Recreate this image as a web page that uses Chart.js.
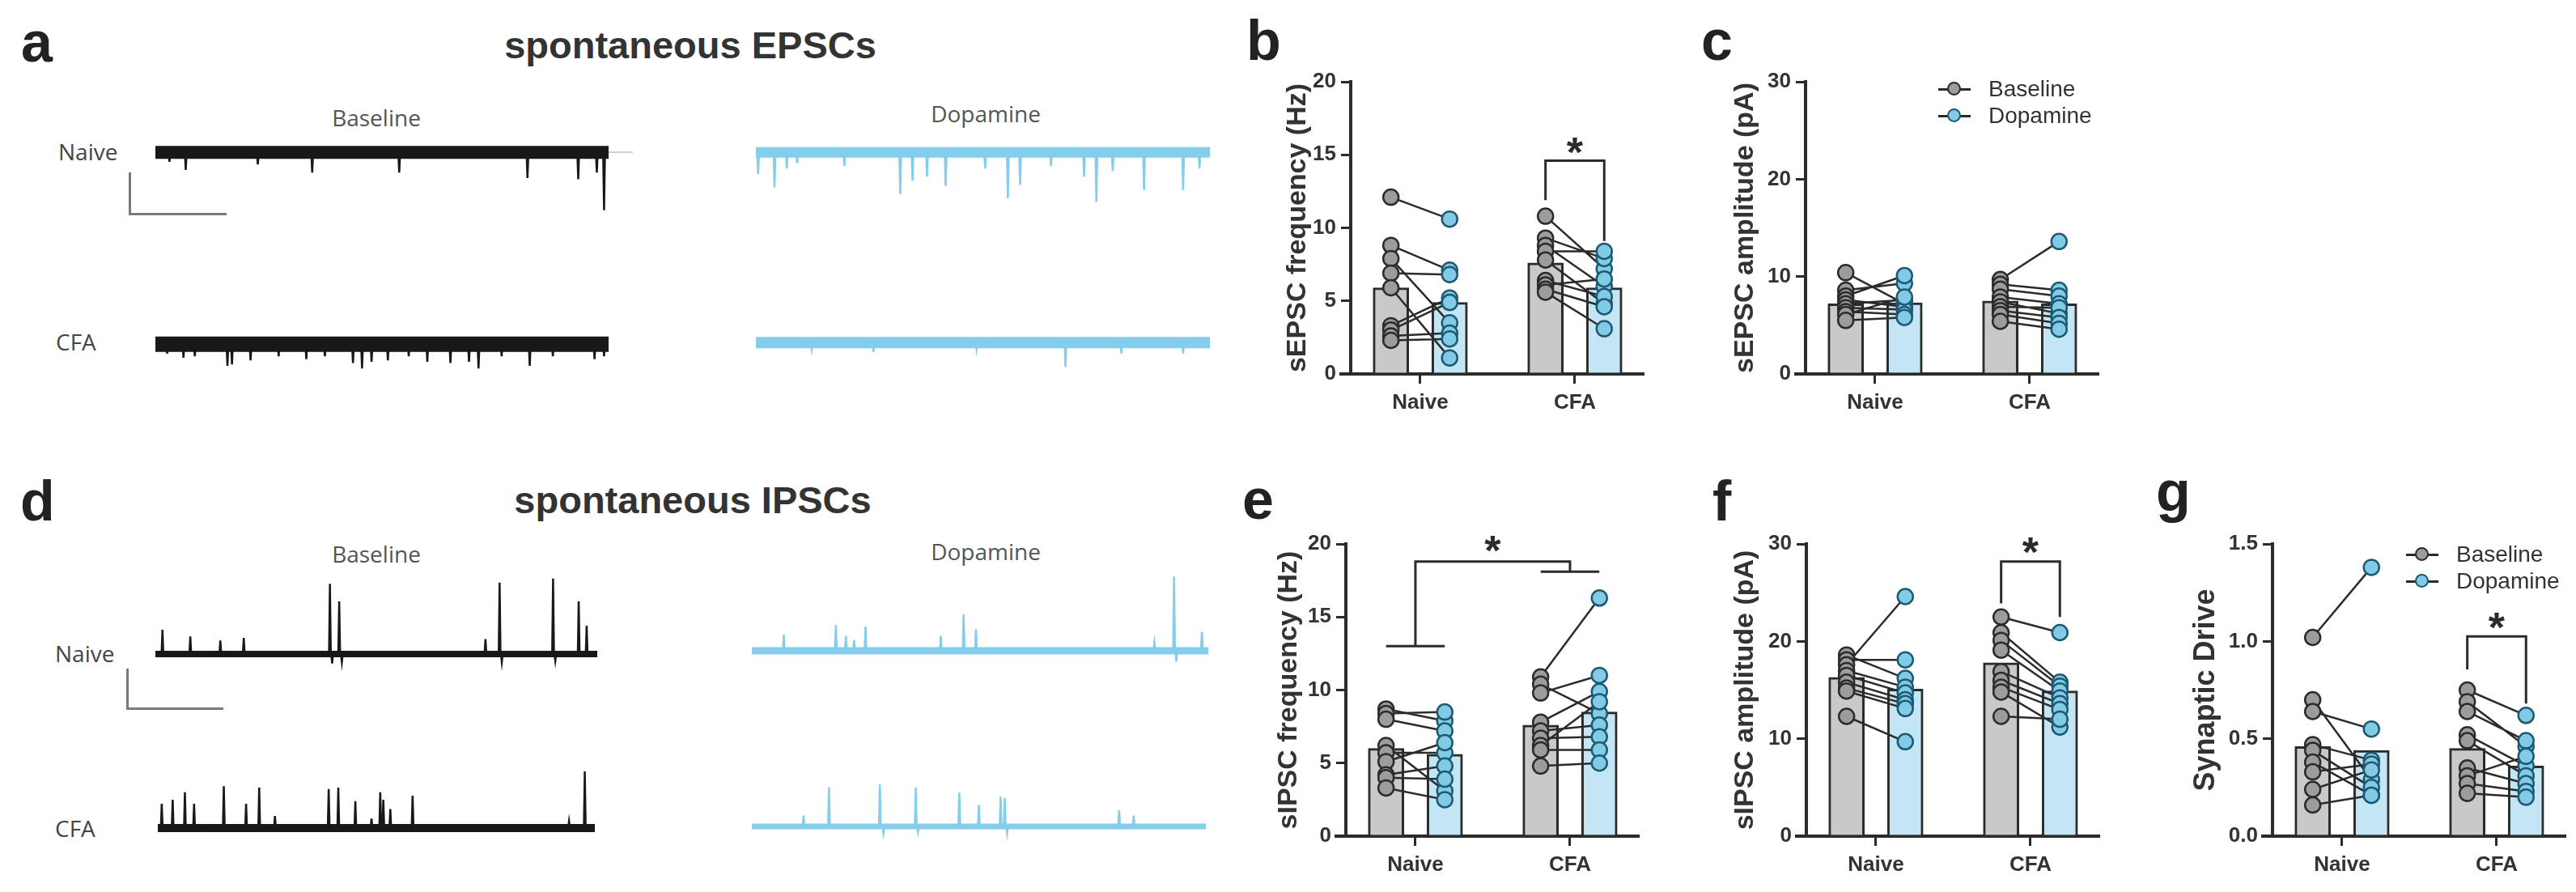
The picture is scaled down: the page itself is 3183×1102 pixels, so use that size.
<!DOCTYPE html>
<html>
<head>
<meta charset="utf-8">
<script src="https://cdn.jsdelivr.net/npm/chart.js@4.4.1/dist/chart.umd.min.js"></script>
<style>
  html, body { margin: 0; padding: 0; background: #fff; }
  #fig { position: relative; width: 3183px; height: 1102px; overflow: hidden; background: #fff; }
  #fig canvas { position: absolute; }
  .t { position: absolute; white-space: nowrap; }
  .ln { position: absolute; background: #7a7a7a; }
</style>
</head>
<body>
<div id="fig"></div>
<script>
// groups on the x axis
const groups = ['Naive', 'CFA'];

// b - sEPSC frequency (Hz), paired cells
const bNaiveBase = [12.1, 8.8, 7.9, 6.9, 5.9, 3.3, 3.0, 2.6, 2.3];
const bNaiveDopa = [10.6, 7.1, 3.5, 6.8, 1.1, 5.2, 4.9, 2.8, 2.4];
const bCfaBase = [10.8, 9.3, 8.8, 8.4, 7.8, 6.4, 6.1, 5.8, 5.6];
const bCfaDopa = [7.2, 7.9, 6.0, 8.4, 4.8, 5.3, 6.5, 4.6, 3.1];
const bBarBase = [5.9, 7.6];
const bBarDopa = [4.9, 5.9];

// c - sEPSC amplitude (pA)
const cNaiveBase = [10.4, 8.6, 8.0, 7.6, 7.2, 6.8, 6.4, 6.1, 5.5];
const cNaiveDopa = [7.2, 9.3, 10.1, 6.9, 7.6, 6.6, 6.1, 7.9, 5.8];
const cCfaBase = [9.7, 9.2, 8.7, 7.9, 7.4, 6.9, 6.5, 6.1, 5.4];
const cCfaDopa = [13.6, 8.6, 8.0, 7.2, 6.2, 6.8, 5.8, 5.2, 4.6];
const cBarBase = [7.2, 7.5];
const cBarDopa = [7.3, 7.2];

// e - sIPSC frequency (Hz)
const eNaiveBase = [8.7, 8.4, 8.0, 6.2, 5.7, 5.1, 4.2, 4.0, 3.3];
const eNaiveDopa = [7.9, 8.5, 7.2, 3.1, 5.7, 6.4, 4.8, 3.9, 2.5];
const eCfaBase = [10.9, 10.4, 9.8, 7.8, 7.2, 6.7, 6.2, 5.9, 4.8];
const eCfaDopa = [16.3, 8.4, 11.0, 9.9, 7.6, 6.8, 9.2, 5.9, 5.0];
const eBarBase = [6.0, 7.6];
const eBarDopa = [5.6, 8.5];

// f - sIPSC amplitude (pA)
const fNaiveBase = [18.6, 18.1, 17.6, 17.0, 16.5, 15.8, 15.2, 14.9, 12.3];
const fNaiveDopa = [16.2, 18.1, 24.6, 15.3, 14.7, 14.0, 13.6, 13.1, 9.7];
const fCfaBase = [22.5, 20.9, 20.1, 19.1, 16.9, 16.0, 15.3, 14.8, 12.3];
const fCfaDopa = [20.9, 15.8, 15.4, 14.9, 14.2, 13.6, 13.0, 11.2, 12.0];
const fBarBase = [16.3, 17.8];
const fBarDopa = [15.1, 14.9];

// g - synaptic drive
const gNaiveBase = [1.02, 0.70, 0.64, 0.47, 0.44, 0.38, 0.33, 0.24, 0.16];
const gNaiveDopa = [1.38, 0.29, 0.55, 0.39, 0.25, 0.21, 0.37, 0.34, 0.21];
const gCfaBase = [0.75, 0.69, 0.64, 0.52, 0.49, 0.35, 0.31, 0.27, 0.22];
const gCfaDopa = [0.62, 0.46, 0.49, 0.36, 0.31, 0.27, 0.41, 0.23, 0.20];
const gBarBase = [0.46, 0.45];
const gBarDopa = [0.44, 0.36];

// significance brackets (x in group units, y in axis units) and stars
const bBracket = [[[0.81, 11.9], [0.81, 14.6], [1.19, 14.6], [1.19, 9.1]]];
const bStars = [[1.0, 15.8]];
const eBracket = [
  [[-0.19, 13.0], [0.19, 13.0]],
  [[0, 13.0], [0, 18.8], [1, 18.8], [1, 18.1]],
  [[0.81, 18.1], [1.19, 18.1]]
];
const eStars = [[0.5, 20.2]];
const fBracket = [[[0.81, 23.9], [0.81, 28.2], [1.19, 28.2], [1.19, 22.5]]];
const fStars = [[1.0, 30.1]];
const gBracket = [[[0.81, 0.856], [0.81, 1.025], [1.19, 1.025], [1.19, 0.68]]];
const gStars = [[1.0, 1.12]];

// example traces: events as [position % of trace, amplitude]
const epscNaiveBase = [[3.1,35],[6.7,65],[22.6,45],[34.6,75],[53.8,75],[82.1,95],[93.3,100],[97.4,75],[99.0,215]];
const epscNaiveDopa = [[0.5,80],[4.1,130],[6.8,60],[9.1,40],[19.5,50],[31.8,155],[34.5,105],[37.7,90],[41.8,125],[50.5,60],[55.5,170],[58.2,120],[65.0,50],[72.3,90],[75.0,185],[78.6,70],[85.5,140],[94.1,140],[97.7,60]];
const epscCfaBase = [[2.6,35],[6.2,50],[8.7,45],[15.9,80],[16.9,75],[21.0,60],[27.2,45],[33.3,55],[37.4,45],[43.6,70],[45.6,90],[47.7,65],[51.3,60],[55.9,45],[60.0,65],[65.1,70],[69.2,65],[71.3,90],[76.4,45],[82.6,80],[87.7,45],[96.9,55],[99.0,45]];
const epscCfaDopa = [[12.3,25],[25.9,35],[48.6,25],[68.2,90],[80.5,40],[94.1,40]];
const ipscNaiveBase = [[1.6,90],[7.9,65],[14.7,50],[20.0,60],[39.5,260],[40.0,-35],[41.6,195],[42.2,-30],[74.7,55],[77.9,265],[78.4,-30],[90.0,280],[90.5,-25],[95.8,195],[97.6,105]];
const ipscNaiveDopa = [[7.0,60],[18.4,95],[20.6,55],[22.4,40],[24.9,90],[41.4,55],[46.4,135],[49.1,80],[88.2,30],[92.5,275],[93.0,-40],[98.6,70]];
const ipscCfaBase = [[0.9,90],[3.4,105],[6.2,133],[8.3,90],[15.1,155],[20.2,90],[23.2,150],[26.8,45],[39.1,145],[41.3,150],[45.2,100],[48.9,35],[50.9,133],[51.6,105],[53.2,70],[58.3,120],[94.1,25],[97.7,210]];
const ipscCfaDopa = [[11.4,40],[17.0,145],[28.2,155],[29.0,-25],[36.1,145],[36.6,-20],[45.7,125],[50.0,80],[54.8,110],[55.7,105],[56.2,-25],[80.9,60],[84.1,40]];

const fig = document.getElementById('fig');
const SANS = '"Liberation Sans", Arial, sans-serif';
const DARK = '#2b2b2b';
const GRAY_BAR = '#c9c9c9', BLUE_BAR = '#c3e5f4';
const GRAY_PT = '#9c9c9c', BLUE_PT = '#82cbe6', BLUE_EDGE = '#1d5a72';
const TRACE_BLACK = '#181818', TRACE_BLUE = '#84cdec';

// x axis of the bar panels, in group units
const UNIT = 191, X_MIN = -0.45, X_MAX = 1.44, OFF = 0.19;

function text(str, x, baseline, font, color, align) {
  const d = document.createElement('div');
  d.className = 't';
  d.textContent = str;
  d.style.font = font;
  d.style.lineHeight = '1';
  d.style.color = color;
  const size = parseFloat(font.match(/(\d+)px/)[1]);
  d.style.top = (baseline - 0.86 * size) + 'px';
  d.style.left = x + 'px';
  if (align === 'center') d.style.transform = 'translateX(-50%)';
  fig.appendChild(d);
}

function addCanvas(left, top, w, h) {
  const c = document.createElement('canvas');
  c.width = w; c.height = h;
  c.style.left = left + 'px'; c.style.top = top + 'px';
  c.style.width = w + 'px'; c.style.height = h + 'px';
  fig.appendChild(c);
  return c;
}

function rule(left, top, w, h, color) {
  const d = document.createElement('div');
  d.className = 'ln';
  d.style.left = left + 'px'; d.style.top = top + 'px';
  d.style.width = w + 'px'; d.style.height = h + 'px';
  if (color) d.style.background = color;
  fig.appendChild(d);
}

// stars above the brackets, plus the little x-axis overhang left of the y axis
const starPlugin = {
  id: 'stars',
  afterDatasetsDraw(chart, args, opts) {
    const ctx = chart.ctx;
    ctx.save();
    ctx.fillStyle = DARK;
    ctx.font = 'bold 52px ' + SANS;
    ctx.textAlign = 'center';
    ctx.textBaseline = 'alphabetic';
    (opts.points || []).forEach(([x, y]) => {
      const px = chart.scales.x.getPixelForValue(x);
      const py = chart.scales.y.getPixelForValue(y);
      ctx.fillText('*', px, py + 0.57 * 52);
    });
    ctx.restore();
  },
  afterDraw(chart) {
    const a = chart.chartArea, ctx = chart.ctx;
    ctx.save();
    ctx.strokeStyle = DARK;
    ctx.lineWidth = 4;
    ctx.beginPath();
    ctx.moveTo(a.left - 14, a.bottom);
    ctx.lineTo(a.left, a.bottom);
    ctx.stroke();
    ctx.restore();
  }
};

function polylines(lines) {
  const out = [];
  lines.forEach(l => {
    l.forEach(([x, y]) => out.push({x: x, y: y}));
    out.push({x: l[l.length - 1][0], y: null});
  });
  return out;
}

function barPanel(o) {
  const Y_W = 120, X_H = 62, PAD_T = 60, PAD_R = 12;
  const plotW = Math.round((X_MAX - X_MIN) * UNIT);
  const plotH = o.bottom - o.top;
  const cv = addCanvas(o.left - Y_W, o.top - PAD_T, Y_W + plotW + PAD_R, PAD_T + plotH + X_H);

  const bars = (vals, off) => vals.map((v, i) => ({x: i + off, y: v}));
  const pts = (n, c, off) => n.map(v => ({x: off, y: v})).concat(c.map(v => ({x: 1 + off, y: v})));
  const pairs = [];
  [[o.nb, o.nd, 0], [o.cb, o.cd, 1]].forEach(([b, d, g]) => {
    b.forEach((v, i) => pairs.push([[g - OFF, v], [g + OFF, d[i]]]));
  });

  const tickFont = {family: SANS, size: 26, weight: 'bold'};
  const grid = {drawOnChartArea: false, drawTicks: true, tickLength: 12, color: DARK, lineWidth: 3, offset: false};

  new Chart(cv, {
    type: 'bar',
    data: {
      datasets: [
        {label: 'Baseline', data: bars(o.barB, -OFF), backgroundColor: GRAY_BAR, borderColor: DARK,
         borderWidth: 3, barThickness: 44, grouped: false, order: 4},
        {label: 'Dopamine', data: bars(o.barD, OFF), backgroundColor: BLUE_BAR, borderColor: DARK,
         borderWidth: 3, barThickness: 44, grouped: false, order: 4},
        {type: 'line', data: polylines(pairs), borderColor: DARK, borderWidth: 2.5, pointRadius: 0,
         spanGaps: false, tension: 0, order: 3, clip: false},
        {type: 'scatter', data: pts(o.nb, o.cb, -OFF), pointRadius: 9.5, pointBackgroundColor: GRAY_PT,
         pointBorderColor: DARK, pointBorderWidth: 2.5, order: 2, clip: false},
        {type: 'scatter', data: pts(o.nd, o.cd, OFF), pointRadius: 9.5, pointBackgroundColor: BLUE_PT,
         pointBorderColor: BLUE_EDGE, pointBorderWidth: 2.5, order: 1, clip: false},
        {type: 'line', data: polylines(o.bracket), borderColor: DARK, borderWidth: 3, pointRadius: 0,
         spanGaps: false, tension: 0, order: 0, clip: false}
      ]
    },
    options: {
      responsive: false,
      animation: false,
      devicePixelRatio: 1,
      layout: {padding: {left: 0, top: PAD_T, right: PAD_R, bottom: 0}},
      plugins: {legend: {display: false}, tooltip: {enabled: false}, stars: {points: o.stars}},
      scales: {
        x: {
          type: 'linear', min: X_MIN, max: X_MAX, offset: false,
          afterBuildTicks: s => { s.ticks = groups.map((g, i) => ({value: i})); },
          afterFit: s => { s.height = X_H; },
          ticks: {callback: v => groups[v], font: tickFont, color: '#333', padding: 8, autoSkip: false, maxRotation: 0},
          grid: grid,
          border: {color: DARK, width: 4}
        },
        y: {
          min: 0, max: o.yMax,
          afterFit: s => { s.width = Y_W; },
          ticks: {stepSize: o.yStep, font: tickFont, color: '#333', padding: 6,
                  callback: v => o.dec ? v.toFixed(o.dec) : v},
          grid: grid,
          border: {color: DARK, width: 4},
          title: {display: true, text: o.title, color: '#333',
                  font: {family: SANS, size: o.titleSize || 34, weight: 'bold'},
                  padding: {top: Y_W - o.titleGap - 0.6 * (o.titleSize || 34), bottom: 0}}
        }
      }
    },
    plugins: [starPlugin]
  });
}

function trace(o) {
  const h = (o.yMax - o.yMin) / 3;
  const top = o.base - o.yMax / 3;
  const cv = addCanvas(o.x0, Math.round(top), o.x1 - o.x0, Math.round(h));
  const spikes = [];
  o.events.forEach(([p, a]) => {
    spikes.push({x: p - 0.2, y: 0}, {x: p, y: o.sign * a}, {x: p + 0.2, y: 0}, {x: p, y: null});
  });
  new Chart(cv, {
    type: 'line',
    data: {
      datasets: [
        {data: [{x: 0, y: 0}, {x: 100, y: 0}], borderColor: o.color, borderWidth: o.band, pointRadius: 0, borderCapStyle: 'butt'},
        {data: spikes, borderColor: o.color, borderWidth: 2.5, pointRadius: 0, spanGaps: false, tension: 0}
      ]
    },
    options: {
      responsive: false, animation: false, devicePixelRatio: 1,
      layout: {padding: 0},
      plugins: {legend: {display: false}, tooltip: {enabled: false}},
      scales: {
        x: {type: 'linear', min: 0, max: 100, display: false},
        y: {min: o.yMin, max: o.yMax, display: false}
      }
    }
  });
}

function legend(x, y, fill, edge, label) {
  rule(x - 20, y - 1.5, 40, 3, DARK);
  const c = document.createElement('div');
  c.style.position = 'absolute';
  c.style.left = (x - 9) + 'px'; c.style.top = (y - 9) + 'px';
  c.style.width = '13px'; c.style.height = '13px';
  c.style.borderRadius = '50%';
  c.style.background = fill;
  c.style.border = '2.5px solid ' + edge;
  fig.appendChild(c);
  text(label, x + 42, y + 10, '28px ' + SANS, '#333');
}

// traces - spontaneous EPSCs (downward) and IPSCs (upward)
trace({x0: 192, x1: 752, base: 188, yMin: -240, yMax: 40, sign: -1, band: 16, color: TRACE_BLACK, events: epscNaiveBase});
trace({x0: 934, x1: 1495, base: 188, yMin: -240, yMax: 40, sign: -1, band: 13, color: TRACE_BLUE, events: epscNaiveDopa});
trace({x0: 192, x1: 752, base: 425, yMin: -240, yMax: 40, sign: -1, band: 19, color: TRACE_BLACK, events: epscCfaBase});
trace({x0: 934, x1: 1495, base: 423, yMin: -240, yMax: 40, sign: -1, band: 14, color: TRACE_BLUE, events: epscCfaDopa});
trace({x0: 192, x1: 738, base: 808, yMin: -60, yMax: 300, sign: 1, band: 8, color: TRACE_BLACK, events: ipscNaiveBase});
trace({x0: 929, x1: 1493, base: 804, yMin: -60, yMax: 300, sign: 1, band: 9, color: TRACE_BLUE, events: ipscNaiveDopa});
trace({x0: 195, x1: 735, base: 1023, yMin: -60, yMax: 300, sign: 1, band: 10, color: TRACE_BLACK, events: ipscCfaBase});
trace({x0: 929, x1: 1490, base: 1021, yMin: -60, yMax: 300, sign: 1, band: 7, color: TRACE_BLUE, events: ipscCfaDopa});

// faint baseline tail after the first trace
rule(752, 187, 30, 2, '#cfcfcf');

// scale bars
rule(159, 213, 3, 52); rule(159, 263, 121, 3);
rule(156, 826, 3, 50); rule(156, 874, 120, 3);

// bar panels
barPanel({left: 1669, top: 101, bottom: 462, yMax: 20, yStep: 5, title: 'sEPSC frequency (Hz)', titleGap: 65,
  nb: bNaiveBase, nd: bNaiveDopa, cb: bCfaBase, cd: bCfaDopa, barB: bBarBase, barD: bBarDopa, bracket: bBracket, stars: bStars});
barPanel({left: 2231, top: 101, bottom: 462, yMax: 30, yStep: 10, title: 'sEPSC amplitude (pA)', titleGap: 74,
  nb: cNaiveBase, nd: cNaiveDopa, cb: cCfaBase, cd: cCfaDopa, barB: cBarBase, barD: cBarDopa, bracket: [], stars: []});
barPanel({left: 1663, top: 672, bottom: 1033, yMax: 20, yStep: 5, title: 'sIPSC frequency (Hz)', titleGap: 70,
  nb: eNaiveBase, nd: eNaiveDopa, cb: eCfaBase, cd: eCfaDopa, barB: eBarBase, barD: eBarDopa, bracket: eBracket, stars: eStars});
barPanel({left: 2232, top: 672, bottom: 1033, yMax: 30, yStep: 10, title: 'sIPSC amplitude (pA)', titleGap: 75,
  nb: fNaiveBase, nd: fNaiveDopa, cb: fCfaBase, cd: fCfaDopa, barB: fBarBase, barD: fBarDopa, bracket: fBracket, stars: fStars});
barPanel({left: 2808, top: 672, bottom: 1033, yMax: 1.5, yStep: 0.5, dec: 1, title: 'Synaptic Drive', titleGap: 82, titleSize: 36,
  nb: gNaiveBase, nd: gNaiveDopa, cb: gCfaBase, cd: gCfaDopa, barB: gBarBase, barD: gBarDopa, bracket: gBracket, stars: gStars});

// legends
legend(2415, 110, GRAY_PT, DARK, 'Baseline');
legend(2415, 143, BLUE_PT, BLUE_EDGE, 'Dopamine');
legend(2993, 685, GRAY_PT, DARK, 'Baseline');
legend(2993, 718, BLUE_PT, BLUE_EDGE, 'Dopamine');

// panel letters and headings
const LETTER = 'bold 70px ' + SANS;
text('a', 26, 77, LETTER, '#222');
text('b', 1540, 75, LETTER, '#222');
text('c', 2102, 75, LETTER, '#222');
text('d', 25, 644, LETTER, '#222');
text('e', 1535, 642, LETTER, '#222');
text('f', 2116, 644, LETTER, '#222');
text('g', 2664, 632, LETTER, '#222');

const HEAD = 'bold 47px ' + SANS;
text('spontaneous EPSCs', 853, 72, HEAD, '#333', 'center');
text('spontaneous IPSCs', 856, 634, HEAD, '#333', 'center');

const SUB = '28px "Open Sans", sans-serif';
text('Baseline', 465, 155, SUB, '#555', 'center');
text('Dopamine', 1218, 150, SUB, '#555', 'center');
text('Baseline', 465, 694, SUB, '#555', 'center');
text('Dopamine', 1218, 691, SUB, '#555', 'center');
text('Naive', 72, 197, SUB, '#444');
text('CFA', 69, 432, SUB, '#444');
text('Naive', 68, 817, SUB, '#444');
text('CFA', 68, 1033, SUB, '#444');
</script>
</body>
</html>
